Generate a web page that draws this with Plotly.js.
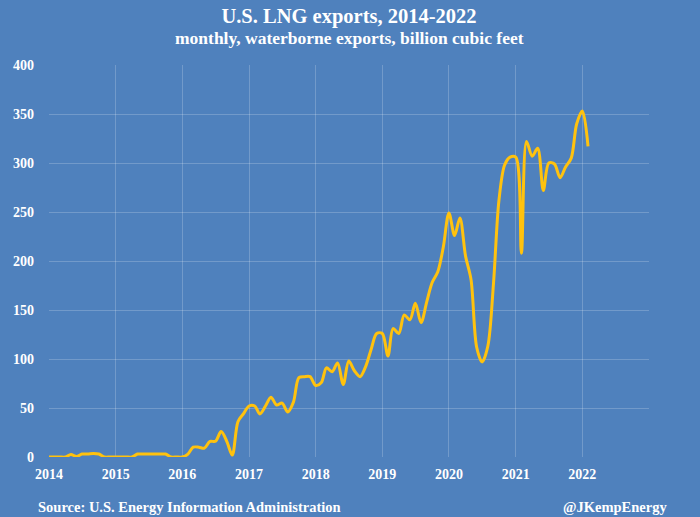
<!DOCTYPE html>
<html>
<head>
<meta charset="utf-8">
<script src="https://cdn.plot.ly/plotly-3.0.1.min.js"></script>
<style>
html,body{margin:0;padding:0;background:#4f81bd;}
#chart{width:700px;height:517px;}
</style>
</head>
<body>
<div id="chart"></div>
<script>
// Monthly waterborne LNG exports, billion cubic feet
const y2014 = [0, 0, 0, 0, 2.5, 0.5, 3, 3, 3.5, 3, 0, 0];
const y2015 = [0, 0, 0, 0, 3, 3, 3, 3, 3, 3, 0, 0];
const y2016 = [0, 3, 10, 10, 9, 16, 16, 26, 16, 2, 36, 44];
const y2017 = [52, 52, 44, 52, 61, 53, 55, 46, 56, 81, 82, 82];
const y2018 = [73, 76, 91, 87, 96, 74, 98, 88, 82, 92, 110, 126];
const y2019 = [126, 103, 131, 126, 145, 140, 157, 137, 158, 178, 189, 214];
const y2020 = [249, 226, 244, 205, 181, 112, 97, 113, 177, 262, 298, 306];
const y2021 = [306, 208, 322, 307, 315, 272, 300, 299, 285, 296, 305, 340];
const y2022 = [353, 317];

const years = [2014, 2015, 2016, 2017, 2018, 2019, 2020, 2021, 2022];
const series = [y2014, y2015, y2016, y2017, y2018, y2019, y2020, y2021, y2022];

const tickYears = ['2014', '2015', '2016', '2017', '2018', '2019', '2020', '2021', '2022', ''];
const tickDates = ['2014-01-01', '2015-01-01', '2016-01-01', '2017-01-01', '2018-01-01',
                   '2019-01-01', '2020-01-01', '2021-01-01', '2022-01-01', '2023-01-01'];
const yTicks = [0, 50, 100, 150, 200, 250, 300, 350, 400];

const dates = [], values = [];
series.forEach((arr, i) => {
  arr.forEach((v, m) => {
    dates.push(years[i] + '-' + String(m + 1).padStart(2, '0') + '-01');
    values.push(v);
  });
});

const serif = '"Liberation Serif", "DejaVu Serif", serif';
const bg = '#4f81bd';
const grid = 'rgba(255,255,255,0.2)';

const trace = {
  x: dates, y: values, type: 'scatter', mode: 'lines',
  line: {color: '#ffc20e', width: 3, shape: 'spline', smoothing: 0.9},
  hoverinfo: 'x+y'
};

const layout = {
  width: 700, height: 517,
  paper_bgcolor: bg, plot_bgcolor: bg,
  margin: {l: 49, r: 51, t: 65, b: 60},
  showlegend: false,
  title: {
    text: '<b>U.S. LNG exports, 2014-2022</b>',
    font: {family: serif, size: 20.5, color: '#ffffff'},
    x: 0.5, xanchor: 'center', xref: 'paper',
    y: 0.969, yanchor: 'middle', yref: 'container'
  },
  xaxis: {
    type: 'date',
    range: ['2014-01-01', '2023-01-01'],
    tickvals: tickDates, ticktext: tickYears.map(t => t ? '<b>' + t + '</b>' : ''),
    showgrid: true, gridcolor: grid, gridwidth: 1,
    zeroline: false, showline: false, ticks: '',
    ticklabelstandoff: 7,
    tickfont: {family: serif, size: 14, color: '#ffffff'},
    fixedrange: true
  },
  yaxis: {
    range: [0, 400],
    tickvals: yTicks, ticktext: yTicks.map(t => '<b>' + t + '</b>'),
    showgrid: true, gridcolor: grid, gridwidth: 1,
    zeroline: false, showline: false, ticks: '',
    ticklabelstandoff: 14,
    tickfont: {family: serif, size: 14, color: '#ffffff'},
    fixedrange: true
  },
  annotations: [
    {text: '<b>monthly, waterborne exports, billion cubic feet</b>', xref: 'paper', yref: 'paper',
     x: 0.5, y: 1.069, xanchor: 'center', yanchor: 'middle', showarrow: false,
     font: {family: serif, size: 17.5, color: '#ffffff'}},
    {text: '<b>Source: U.S. Energy Information Administration</b>', xref: 'paper', yref: 'paper',
     x: -0.022, y: -0.128, xanchor: 'left', yanchor: 'middle', showarrow: false,
     font: {family: serif, size: 14.5, color: '#ffffff'}},
    {text: '<b>@JKempEnergy</b>', xref: 'paper', yref: 'paper',
     x: 1.033, y: -0.128, xanchor: 'right', yanchor: 'middle', showarrow: false,
     font: {family: serif, size: 14.5, color: '#ffffff'}}
  ]
};

Plotly.newPlot('chart', [trace], layout, {displayModeBar: false, staticPlot: true});
</script>
</body>
</html>
